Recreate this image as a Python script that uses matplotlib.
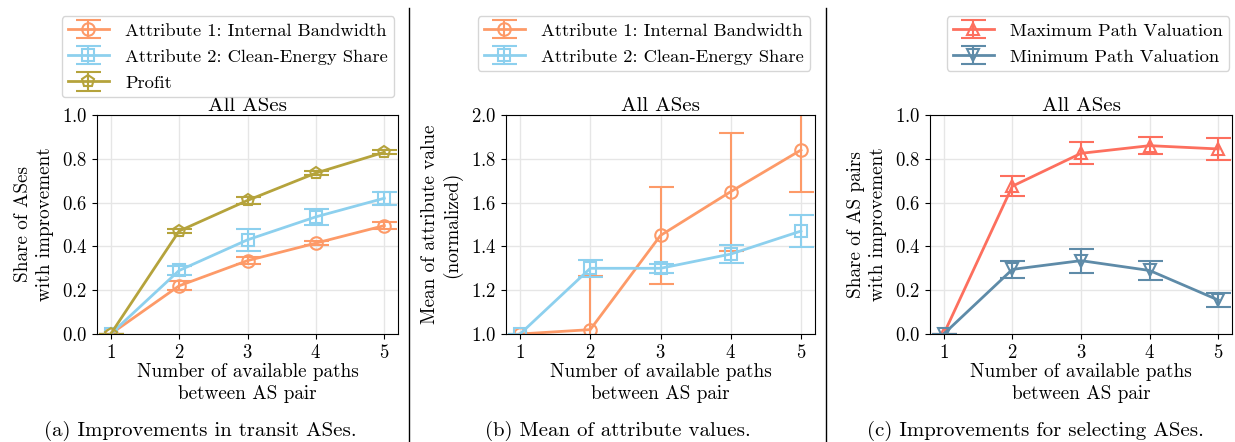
import numpy as np
import matplotlib
matplotlib.use("Agg")
import matplotlib.pyplot as plt
from matplotlib.lines import Line2D

plt.rcParams['font.family'] = ['cmr10', 'DejaVu Serif']
plt.rcParams['mathtext.fontset'] = 'cm'
plt.rcParams['axes.formatter.use_mathtext'] = True
plt.rcParams['font.size'] = 13.5

paths = [1, 2, 3, 4, 5]

# (a) improvements in transit ASes
bw_share = [0.0, 0.22, 0.335, 0.415, 0.495]
bw_share_err = [0.0, 0.02, 0.015, 0.01, 0.015]
ce_share = [0.0, 0.29, 0.43, 0.535, 0.62]
ce_share_err = [0.0, 0.02, 0.05, 0.035, 0.03]
profit_share = [0.0, 0.47, 0.61, 0.735, 0.83]
profit_share_err = [0.0, 0.01, 0.015, 0.01, 0.01]

# (b) mean attribute values
bw_mean = [1.0, 1.02, 1.45, 1.65, 1.84]
bw_mean_err = [0.0, 0.245, 0.22, 0.27, 0.19]
ce_mean = [1.0, 1.30, 1.30, 1.365, 1.47]
ce_mean_err = [0.0, 0.04, 0.02, 0.04, 0.075]

# (c) improvements for selecting ASes
max_val = [0.0, 0.675, 0.825, 0.86, 0.845]
max_val_err = [0.0, 0.045, 0.05, 0.04, 0.05]
min_val = [0.0, 0.295, 0.335, 0.29, 0.155]
min_val_err = [0.0, 0.04, 0.055, 0.045, 0.03]

c_bw = '#fd9a68'
c_ce = '#8dd0ee'
c_profit = '#b5a33c'
c_max = '#fd6f5e'
c_min = '#5e8ba8'

fig = plt.figure(figsize=(12.35, 4.42), dpi=100)
W, H = 1235, 442


def axes_px(left, right, top=115, bottom=334):
    return fig.add_axes([left / W, 1 - bottom / H, (right - left) / W, (bottom - top) / H])


def series(ax, y, err, color, marker, label):
    ax.errorbar(paths, y, yerr=err, color=color, marker=marker, markersize=9,
                markerfacecolor='none', markeredgewidth=1.5, lw=2,
                capsize=9, capthick=1.5, elinewidth=1.5, label=label)


def style(ax, ylim, ylabel):
    ax.set_xlim(0.8, 5.2)
    ax.set_ylim(*ylim)
    ax.set_xticks(paths)
    ax.grid(True, color='#e6e6e6', lw=1)
    ax.set_axisbelow(True)
    ax.set_title('All ASes', fontsize=15, pad=2)
    ax.set_xlabel('Number of available paths\nbetween AS pair', fontsize=13.8,
                  labelpad=1, linespacing=1.25)
    ax.set_ylabel(ylabel, fontsize=13.8, linespacing=1.25, labelpad=6)
    ax.tick_params(labelsize=13.5)


def legend(ax, cx):
    ax.legend(loc='upper center', bbox_to_anchor=(cx / W, 1 - 7 / H),
              bbox_transform=fig.transFigure, fontsize=13.3, handlelength=2.2,
              labelspacing=0.55, borderpad=0.35, handletextpad=0.9)


ax1 = axes_px(97, 398)
series(ax1, bw_share, bw_share_err, c_bw, 'o', 'Attribute 1: Internal Bandwidth')
series(ax1, ce_share, ce_share_err, c_ce, 's', 'Attribute 2: Clean-Energy Share')
series(ax1, profit_share, profit_share_err, c_profit, 'p', 'Profit')
style(ax1, (0, 1), 'Share of ASes\nwith improvement')
ax1.set_yticks(np.arange(0, 1.01, 0.2))
legend(ax1, 228)

ax2 = axes_px(506, 815)
series(ax2, bw_mean, bw_mean_err, c_bw, 'o', 'Attribute 1: Internal Bandwidth')
series(ax2, ce_mean, ce_mean_err, c_ce, 's', 'Attribute 2: Clean-Energy Share')
style(ax2, (1.0, 2.0), 'Mean of attribute value\n(normalized)')
ax2.set_yticks(np.arange(1.0, 2.01, 0.2))
legend(ax2, 644)

ax3 = axes_px(930, 1232)
series(ax3, max_val, max_val_err, c_max, '^', 'Maximum Path Valuation')
series(ax3, min_val, min_val_err, c_min, 'v', 'Minimum Path Valuation')
style(ax3, (0, 1), 'Share of AS pairs\nwith improvement')
ax3.set_yticks(np.arange(0, 1.01, 0.2))
legend(ax3, 1088)

captions = [(200, '(a) Improvements in transit ASes.'),
            (618, '(b) Mean of attribute values.'),
            (1035, '(c) Improvements for selecting ASes.')]
for x, txt in captions:
    fig.text(x / W, 1 - 431 / H, txt, ha='center', va='center', fontsize=15)

for x in (409, 826):
    fig.add_artist(Line2D([x / W, x / W], [0, 1 - 8 / H], color='black', lw=1))

fig.savefig('out.png', dpi=100)
